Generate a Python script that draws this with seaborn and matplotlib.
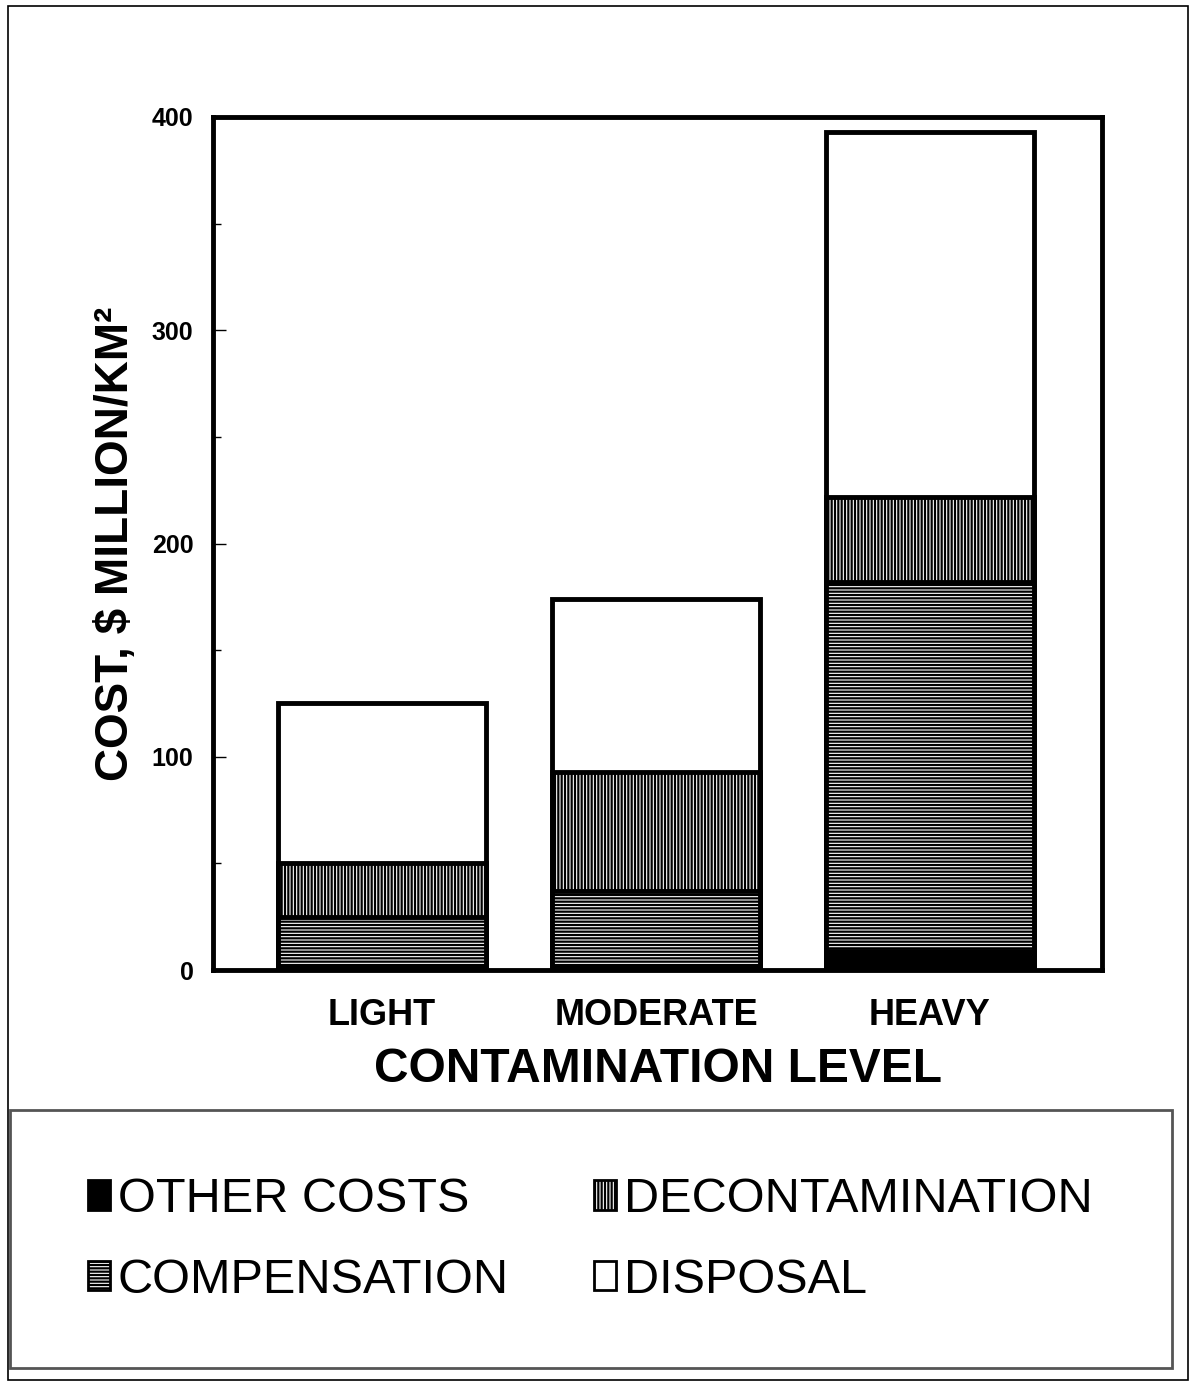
import matplotlib
matplotlib.use("Agg")
import matplotlib.pyplot as plt
import seaborn as sns
import numpy as np
import pandas as pd
from matplotlib.patches import Patch, Rectangle
from matplotlib.ticker import MultipleLocator

levels = ["LIGHT", "MODERATE", "HEAVY"]
other_costs = [2, 2, 9]
compensation = [23, 35, 173]
decontamination = [25, 56, 40]
disposal = [75, 81, 171]

sns.set_theme(style="white")
plt.rcParams['font.family'] = ['Liberation Sans', 'DejaVu Sans']
plt.rcParams['hatch.color'] = 'black'
plt.rcParams['hatch.linewidth'] = 1.6
for k in ['text.color', 'axes.labelcolor', 'xtick.color', 'ytick.color']:
    plt.rcParams[k] = 'black'

fig = plt.figure(figsize=(11.94, 13.84), dpi=100)
ax = fig.add_axes([213/1194, 1 - 970/1384, (1102-213)/1194, (970-117)/1384])

o = np.array(other_costs, float)
c = o + np.array(compensation, float)
d = c + np.array(decontamination, float)
t = d + np.array(disposal, float)

layers = [
    (t, 'white', None),
    (d, 'white', '|||||'),
    (c, 'white', '-----'),
    (o, 'black', None),
]
for vals, fc, hatch in layers:
    df = pd.DataFrame({"level": levels, "value": vals})
    sns.barplot(data=df, x="level", y="value", order=levels, color=fc,
                saturation=1, errorbar=None, width=0.76, edgecolor='black',
                linewidth=3.5, hatch=hatch, ax=ax)

ax.set_xlim(-0.617, 2.628)
ax.set_ylim(0, 400)
ax.yaxis.set_major_locator(MultipleLocator(100))
ax.yaxis.set_minor_locator(MultipleLocator(50))
ax.tick_params(axis='y', which='major', direction='in', length=9, width=1, left=True, pad=14, labelsize=18)
ax.tick_params(axis='y', which='minor', direction='in', length=6, width=1, left=True)
ax.tick_params(axis='x', which='both', length=0, pad=20, labelsize=26)
for lbl in ax.get_yticklabels() + ax.get_xticklabels():
    lbl.set_fontweight('bold')
for s in ax.spines.values():
    s.set_visible(True)
    s.set_color('black')
    s.set_linewidth(3.5)

ax.set_xlabel("CONTAMINATION LEVEL", fontsize=34.5, fontweight='bold', labelpad=10)
ax.set_ylabel("COST, $ MILLION/KM²", fontsize=33, fontweight='bold', labelpad=10)

# outer frame
fig.patches.append(Rectangle((8/1194, 1 - 1380/1384), (1188-8)/1194, (1380-6)/1384,
                             transform=fig.transFigure, fill=False, edgecolor='black', linewidth=1.2))
# legend box
fig.patches.append(Rectangle((10/1194, 1 - 1368/1384), (1172-10)/1194, (1368-1110)/1384,
                             transform=fig.transFigure, fill=False, edgecolor='#555555', linewidth=2))

handles = [
    Patch(facecolor='black', edgecolor='black', linewidth=2, label='OTHER COSTS'),
    Patch(facecolor='white', edgecolor='black', hatch='-----', linewidth=2, label='COMPENSATION'),
    Patch(facecolor='white', edgecolor='black', hatch='|||||', linewidth=2, label='DECONTAMINATION'),
    Patch(facecolor='white', edgecolor='black', linewidth=2, label='DISPOSAL'),
]
fig.legend(handles=handles, ncol=2, loc='upper left', bbox_to_anchor=(64/1194, 1 - 1153/1384),
           frameon=False, fontsize=35, handlelength=0.45, handleheight=0.55,
           handletextpad=0.16, columnspacing=1.75, labelspacing=0.73, borderpad=0)

fig.savefig("out.png", dpi=100)
